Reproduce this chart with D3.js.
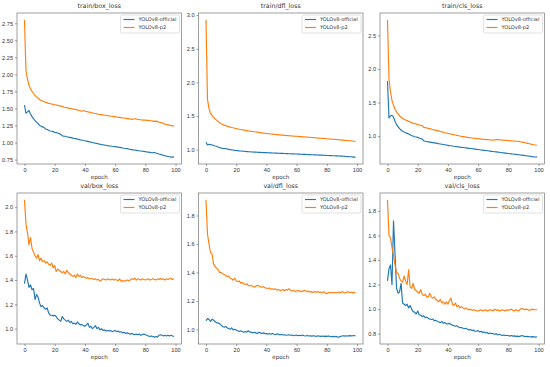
<!DOCTYPE html>
<html lang="en">
<head>
<meta charset="UTF-8"/>
<title>YOLOv8 loss curves</title>
<script src="https://d3js.org/d3.v7.min.js"></script>
<style>
    body, html { margin: 0; padding: 0; background: #fff; }
    svg { display: block; font-family: "DejaVu Sans", sans-serif; }
</style>
</head>
<body>
<svg id="chart" width="550" height="367"></svg>
<script>
const seriesNames = ["YOLOv8-official", "YOLOv8-p2"];
const titles = ["train/box_loss", "train/dfl_loss", "train/cls_loss", "val/box_loss", "val/dfl_loss", "val/cls_loss"];
const xTicks = [0, 20, 40, 60, 80, 100];
const yTicksList = [
    [0.75, 1.00, 1.25, 1.50, 1.75, 2.00, 2.25, 2.50, 2.75],
    [1.0, 1.5, 2.0, 2.5, 3.0],
    [1.0, 1.5, 2.0, 2.5],
    [1.0, 1.2, 1.4, 1.6, 1.8, 2.0],
    [1.0, 1.2, 1.4, 1.6, 1.8],
    [0.8, 1.0, 1.2, 1.4, 1.6, 1.8]
];
const yTickDigits = [2, 1, 1, 1, 1, 1];

const trainBoxOfficial = [
    1.55, 1.43, 1.45, 1.47, 1.42, 1.38, 1.35, 1.32, 1.30, 1.28,
    1.25, 1.24, 1.23, 1.22, 1.20, 1.19, 1.18, 1.17, 1.165, 1.16,
    1.15, 1.145, 1.14, 1.13, 1.12, 1.10, 1.095, 1.092, 1.085, 1.08,
    1.075, 1.072, 1.065, 1.06, 1.057, 1.05, 1.046, 1.04, 1.037, 1.03,
    1.026, 1.02, 1.017, 1.01, 1.006, 1.00, 0.996, 0.99, 0.987, 0.98,
    0.976, 0.97, 0.967, 0.962, 0.96, 0.955, 0.952, 0.95, 0.945, 0.942,
    0.94, 0.936, 0.932, 0.93, 0.926, 0.92, 0.917, 0.912, 0.91, 0.906,
    0.90, 0.897, 0.892, 0.89, 0.886, 0.882, 0.88, 0.876, 0.872, 0.87,
    0.866, 0.862, 0.86, 0.856, 0.852, 0.85, 0.855, 0.846, 0.84, 0.832,
    0.826, 0.82, 0.812, 0.806, 0.80, 0.796, 0.792, 0.787, 0.786, 0.79
];
const trainBoxP2 = [
    2.80, 2.05, 1.93, 1.84, 1.79, 1.75, 1.72, 1.69, 1.67, 1.65,
    1.63, 1.62, 1.61, 1.60, 1.59, 1.585, 1.575, 1.57, 1.565, 1.56,
    1.555, 1.55, 1.545, 1.54, 1.535, 1.53, 1.52, 1.515, 1.512, 1.505,
    1.50, 1.497, 1.49, 1.49, 1.485, 1.48, 1.47, 1.466, 1.46, 1.47,
    1.46, 1.455, 1.45, 1.446, 1.44, 1.436, 1.43, 1.426, 1.42, 1.415,
    1.41, 1.41, 1.405, 1.40, 1.40, 1.395, 1.39, 1.39, 1.385, 1.38,
    1.38, 1.375, 1.37, 1.37, 1.365, 1.36, 1.36, 1.355, 1.35, 1.35,
    1.345, 1.34, 1.345, 1.35, 1.345, 1.34, 1.336, 1.335, 1.33, 1.33,
    1.33, 1.325, 1.325, 1.32, 1.32, 1.315, 1.31, 1.315, 1.31, 1.30,
    1.295, 1.29, 1.28, 1.27, 1.265, 1.26, 1.255, 1.25, 1.245, 1.245
];
const trainDflOfficial = [
    1.11, 1.07, 1.08, 1.075, 1.07, 1.065, 1.055, 1.05, 1.04, 1.03,
    1.025, 1.02, 1.018, 1.015, 1.01, 1.005, 1.0, 0.998, 0.995, 0.99,
    0.988, 0.986, 0.983, 0.981, 0.978, 0.976, 0.975, 0.972, 0.97, 0.969,
    0.967, 0.966, 0.964, 0.963, 0.962, 0.96, 0.959, 0.958, 0.957, 0.956,
    0.955, 0.954, 0.953, 0.952, 0.951, 0.95, 0.949, 0.948, 0.947, 0.946,
    0.945, 0.944, 0.943, 0.942, 0.941, 0.94, 0.939, 0.938, 0.937, 0.936,
    0.935, 0.934, 0.933, 0.932, 0.931, 0.93, 0.929, 0.928, 0.927, 0.926,
    0.925, 0.924, 0.923, 0.922, 0.921, 0.92, 0.919, 0.918, 0.917, 0.916,
    0.914, 0.913, 0.912, 0.911, 0.91, 0.909, 0.908, 0.907, 0.906, 0.905,
    0.904, 0.902, 0.901, 0.899, 0.897, 0.895, 0.894, 0.892, 0.89, 0.889
];
const trainDflP2 = [
    2.93, 1.75, 1.61, 1.54, 1.51, 1.48, 1.46, 1.44, 1.42, 1.40,
    1.385, 1.375, 1.365, 1.357, 1.35, 1.343, 1.336, 1.33, 1.325, 1.318,
    1.312, 1.308, 1.303, 1.30, 1.296, 1.29, 1.287, 1.284, 1.28, 1.277,
    1.273, 1.27, 1.266, 1.262, 1.26, 1.257, 1.253, 1.25, 1.247, 1.244,
    1.241, 1.238, 1.236, 1.233, 1.231, 1.228, 1.226, 1.224, 1.221, 1.219,
    1.217, 1.216, 1.213, 1.211, 1.209, 1.207, 1.206, 1.204, 1.202, 1.20,
    1.199, 1.197, 1.195, 1.193, 1.191, 1.19, 1.188, 1.186, 1.184, 1.182,
    1.181, 1.179, 1.177, 1.176, 1.174, 1.172, 1.17, 1.168, 1.167, 1.165,
    1.163, 1.161, 1.159, 1.157, 1.155, 1.153, 1.151, 1.149, 1.147, 1.145,
    1.143, 1.141, 1.139, 1.137, 1.135, 1.133, 1.131, 1.129, 1.126, 1.123
];
const trainClsOfficial = [
    1.82, 1.27, 1.30, 1.31, 1.28, 1.22, 1.17, 1.14, 1.11, 1.09,
    1.07, 1.06, 1.05, 1.04, 1.03, 1.02, 1.005, 1.0, 0.99, 0.985,
    0.98, 0.97, 0.962, 0.955, 0.928, 0.922, 0.918, 0.914, 0.91, 0.906,
    0.902, 0.898, 0.894, 0.89, 0.886, 0.882, 0.878, 0.874, 0.87, 0.866,
    0.862, 0.858, 0.855, 0.852, 0.848, 0.845, 0.842, 0.838, 0.835, 0.832,
    0.829, 0.826, 0.823, 0.82, 0.817, 0.814, 0.811, 0.808, 0.805, 0.802,
    0.799, 0.796, 0.793, 0.79, 0.787, 0.784, 0.781, 0.778, 0.775, 0.772,
    0.77, 0.767, 0.764, 0.761, 0.758, 0.755, 0.752, 0.749, 0.746, 0.743,
    0.74, 0.737, 0.735, 0.732, 0.729, 0.727, 0.724, 0.721, 0.718, 0.715,
    0.712, 0.709, 0.706, 0.703, 0.70, 0.697, 0.693, 0.69, 0.688, 0.686
];
const trainClsP2 = [
    2.73, 1.85, 1.66, 1.53, 1.46, 1.40, 1.36, 1.33, 1.30, 1.28,
    1.26, 1.25, 1.24, 1.23, 1.22, 1.21, 1.20, 1.19, 1.185, 1.18,
    1.17, 1.165, 1.16, 1.155, 1.13, 1.125, 1.12, 1.115, 1.11, 1.105,
    1.095, 1.09, 1.085, 1.08, 1.074, 1.068, 1.062, 1.056, 1.05, 1.045,
    1.04, 1.035, 1.03, 1.025, 1.02, 1.015, 1.01, 1.005, 1.0, 0.996,
    0.992, 0.988, 0.984, 0.98, 0.977, 0.974, 0.971, 0.968, 0.965, 0.962,
    0.959, 0.957, 0.955, 0.953, 0.951, 0.949, 0.947, 0.945, 0.943, 0.941,
    0.94, 0.942, 0.946, 0.948, 0.945, 0.942, 0.94, 0.938, 0.936, 0.934,
    0.932, 0.93, 0.928, 0.926, 0.925, 0.923, 0.922, 0.92, 0.915, 0.91,
    0.905, 0.9, 0.895, 0.89, 0.885, 0.88, 0.875, 0.87, 0.866, 0.863
];
const valBoxOfficial = [
    1.37, 1.45, 1.40, 1.34, 1.36, 1.32, 1.33, 1.24, 1.28, 1.26,
    1.21, 1.18, 1.19, 1.17, 1.16, 1.17, 1.13, 1.11, 1.11, 1.105,
    1.11, 1.10, 1.08, 1.07, 1.06, 1.10, 1.08, 1.07, 1.06, 1.07,
    1.05, 1.06, 1.04, 1.045, 1.035, 1.055, 1.04, 1.03, 1.035, 1.025,
    1.02, 1.03, 1.045, 1.01, 1.02, 1.00, 1.01, 1.025, 1.00, 1.01,
    0.99, 1.00, 0.985, 0.99, 0.98, 0.985, 0.98, 0.985, 0.975, 0.98,
    0.985, 0.975, 0.98, 0.97, 0.975, 0.965, 0.97, 0.96, 0.965, 0.96,
    0.955, 0.96, 0.955, 0.95, 0.955, 0.95, 0.955, 0.945, 0.95, 0.955,
    0.95, 0.945, 0.94, 0.935, 0.94, 0.935, 0.93, 0.935, 0.93, 0.945,
    0.95, 0.945, 0.94, 0.945, 0.94, 0.945, 0.94, 0.945, 0.94, 0.935
];
const valBoxP2 = [
    2.06, 1.86, 1.79, 1.69, 1.75, 1.66, 1.63, 1.60, 1.58, 1.61,
    1.56, 1.58, 1.55, 1.56, 1.54, 1.55, 1.53, 1.52, 1.54, 1.50,
    1.52, 1.47, 1.49, 1.48, 1.47, 1.46, 1.47, 1.45, 1.48, 1.46,
    1.45, 1.44, 1.43, 1.44, 1.42, 1.45, 1.43, 1.44, 1.42, 1.43,
    1.42, 1.415, 1.42, 1.41, 1.415, 1.41, 1.405, 1.41, 1.40, 1.405,
    1.39, 1.40, 1.41, 1.405, 1.40, 1.41, 1.405, 1.40, 1.41, 1.40,
    1.405, 1.40, 1.395, 1.41, 1.39, 1.395, 1.39, 1.395, 1.40, 1.395,
    1.40, 1.41, 1.405, 1.415, 1.40, 1.41, 1.405, 1.40, 1.41, 1.405,
    1.40, 1.405, 1.41, 1.40, 1.405, 1.41, 1.405, 1.40, 1.41, 1.405,
    1.415, 1.405, 1.41, 1.40, 1.41, 1.405, 1.41, 1.415, 1.405, 1.41
];
const valDflOfficial = [
    1.06, 1.075, 1.07, 1.055, 1.07, 1.065, 1.055, 1.045, 1.045, 1.04,
    1.03, 1.02, 1.015, 1.02, 1.01, 1.005, 1.0, 1.01, 0.995, 1.0,
    0.995, 0.99, 0.985, 0.99, 0.985, 0.98, 0.985, 0.98, 0.99, 0.98,
    0.98, 0.975, 0.98, 0.975, 0.97, 0.98, 0.975, 0.97, 0.975, 0.97,
    0.97, 0.965, 0.97, 0.965, 0.97, 0.965, 0.962, 0.968, 0.965, 0.96,
    0.965, 0.96, 0.962, 0.958, 0.96, 0.962, 0.958, 0.96, 0.955, 0.958,
    0.96, 0.955, 0.958, 0.955, 0.96, 0.955, 0.953, 0.957, 0.953, 0.955,
    0.952, 0.955, 0.953, 0.95, 0.955, 0.952, 0.95, 0.953, 0.95, 0.952,
    0.95, 0.953, 0.95, 0.948, 0.95, 0.948, 0.95, 0.947, 0.945, 0.95,
    0.953, 0.955, 0.952, 0.955, 0.953, 0.956, 0.954, 0.955, 0.956, 0.955
];
const valDflP2 = [
    1.91, 1.67, 1.60, 1.54, 1.53, 1.46, 1.44, 1.43, 1.42, 1.40,
    1.40, 1.39, 1.385, 1.38, 1.37, 1.375, 1.36, 1.355, 1.345, 1.36,
    1.34, 1.335, 1.34, 1.325, 1.33, 1.32, 1.315, 1.32, 1.31, 1.305,
    1.31, 1.30, 1.298, 1.302, 1.31, 1.305, 1.30, 1.296, 1.30, 1.292,
    1.29, 1.287, 1.29, 1.282, 1.285, 1.28, 1.285, 1.275, 1.28, 1.272,
    1.275, 1.28, 1.27, 1.28, 1.275, 1.285, 1.275, 1.27, 1.275, 1.265,
    1.27, 1.275, 1.265, 1.27, 1.265, 1.275, 1.27, 1.265, 1.27, 1.26,
    1.265, 1.26, 1.265, 1.26, 1.265, 1.26, 1.262, 1.258, 1.265, 1.255,
    1.25, 1.26, 1.255, 1.26, 1.255, 1.26, 1.255, 1.258, 1.262, 1.255,
    1.265, 1.26, 1.255, 1.26, 1.265, 1.258, 1.262, 1.255, 1.26, 1.258
];
const valClsOfficial = [
    1.23, 1.33, 1.36, 1.20, 1.72, 1.45, 1.17, 1.13, 1.14, 1.21,
    1.05, 1.04, 1.03, 1.04, 1.01, 1.03, 1.00, 0.98, 0.975, 0.96,
    0.985, 0.955, 0.95, 0.94, 0.945, 0.93, 0.935, 0.925, 0.92, 0.915,
    0.92, 0.905, 0.91, 0.90, 0.895, 0.89, 0.90, 0.885, 0.89, 0.88,
    0.88, 0.885, 0.875, 0.87, 0.865, 0.86, 0.865, 0.855, 0.85, 0.85,
    0.845, 0.84, 0.845, 0.835, 0.83, 0.835, 0.825, 0.83, 0.82, 0.82,
    0.825, 0.815, 0.82, 0.81, 0.815, 0.805, 0.81, 0.80, 0.805, 0.80,
    0.80, 0.795, 0.80, 0.79, 0.795, 0.79, 0.785, 0.79, 0.785, 0.785,
    0.785, 0.78, 0.785, 0.78, 0.782, 0.778, 0.78, 0.776, 0.78, 0.785,
    0.78, 0.778, 0.776, 0.778, 0.775, 0.774, 0.776, 0.774, 0.772, 0.775
];
const valClsP2 = [
    1.89, 1.60, 1.58, 1.50, 1.44, 1.36, 1.30, 1.29, 1.25, 1.23,
    1.22, 1.27, 1.23, 1.20, 1.32, 1.18, 1.17, 1.21, 1.16, 1.15,
    1.14, 1.13, 1.16, 1.12, 1.11, 1.12, 1.10, 1.10, 1.13, 1.10,
    1.09, 1.10, 1.08, 1.07, 1.06, 1.08, 1.05, 1.06, 1.04, 1.06,
    1.04, 1.07, 1.09, 1.04, 1.03, 1.05, 1.02, 1.03, 1.01, 1.02,
    1.01, 1.00, 1.01, 1.00, 0.995, 1.00, 0.99, 0.995, 0.99, 0.985,
    0.985, 0.99, 0.995, 0.985, 0.99, 0.995, 0.985, 0.99, 0.995, 0.99,
    0.985, 1.00, 0.99, 0.995, 0.985, 0.99, 0.995, 0.99, 0.985, 0.995,
    0.99, 0.995, 1.00, 0.99, 0.985, 0.995, 0.99, 0.985, 1.00, 1.005,
    1.00, 0.995, 1.00, 0.995, 0.99, 0.995, 1.00, 0.995, 0.995, 0.995
];

const panelSeries = [
    [trainBoxOfficial, trainBoxP2],
    [trainDflOfficial, trainDflP2],
    [trainClsOfficial, trainClsP2],
    [valBoxOfficial, valBoxP2],
    [valDflOfficial, valDflP2],
    [valClsOfficial, valClsP2]
];

const colors = ["#1f77b4", "#ff7f0e"];
const lefts = [17, 198.5, 380];
const tops = [13, 193];
const pw = 164.5, ph = 151;

const svg = d3.select("#chart");

panelSeries.forEach((series, i) => {
    const col = i % 3, row = Math.floor(i / 3);
    const g = svg.append("g").attr("transform", `translate(${lefts[col]},${tops[row]})`);

    const n = series[0].length;
    const xPad = (n - 1) * 0.05;
    const x = d3.scaleLinear().domain([-xPad, n - 1 + xPad]).range([0, pw]);
    const [lo, hi] = d3.extent(series.flat());
    const yPad = (hi - lo) * 0.05;
    const y = d3.scaleLinear().domain([lo - yPad, hi + yPad]).range([ph, 0]);

    const line = d3.line().x((d, k) => x(k)).y(d => y(d));
    series.forEach((vals, s) => {
        g.append("path")
            .datum(vals)
            .attr("fill", "none")
            .attr("stroke", colors[s])
            .attr("stroke-width", 1.15)
            .attr("stroke-linejoin", "round")
            .attr("d", line);
    });

    // axes
    const xAxis = g.append("g").attr("transform", `translate(0,${ph})`)
        .call(d3.axisBottom(x).tickValues(xTicks).tickSize(2).tickPadding(2).tickFormat(d3.format("d")));
    const yAxis = g.append("g")
        .call(d3.axisLeft(y).tickValues(yTicksList[i]).tickSize(2).tickPadding(2)
            .tickFormat(d3.format(`.${yTickDigits[i]}f`)));
    [xAxis, yAxis].forEach(a => {
        a.select(".domain").remove();
        a.selectAll("line").attr("stroke", "#555").attr("stroke-width", 0.6);
        a.selectAll("text").attr("fill", "#333").style("font-size", "5.6px");
    });

    g.append("rect")
        .attr("width", pw).attr("height", ph)
        .attr("fill", "none").attr("stroke", "#777").attr("stroke-width", 0.7);

    g.append("text")
        .attr("x", pw / 2).attr("y", -5)
        .attr("text-anchor", "middle")
        .attr("fill", "#333")
        .style("font-size", "6.3px")
        .text(titles[i]);

    g.append("text")
        .attr("x", pw / 2).attr("y", ph + 14.5)
        .attr("text-anchor", "middle")
        .attr("fill", "#333")
        .style("font-size", "5.6px")
        .text("epoch");

    // legend
    const lw = 59, lh = 18;
    const lg = g.append("g").attr("transform", `translate(${pw - lw - 2},2)`);
    lg.append("rect")
        .attr("width", lw).attr("height", lh).attr("rx", 1.5)
        .attr("fill", "#fff").attr("fill-opacity", 0.8)
        .attr("stroke", "#ccc").attr("stroke-width", 0.6);
    seriesNames.forEach((name, s) => {
        const ly = 4.5 + s * 8;
        lg.append("line")
            .attr("x1", 3).attr("x2", 14).attr("y1", ly).attr("y2", ly)
            .attr("stroke", colors[s]).attr("stroke-width", 1.15);
        lg.append("text")
            .attr("x", 18).attr("y", ly).attr("dy", "0.35em")
            .attr("fill", "#333")
            .style("font-size", "5px")
            .text(name);
    });
});
</script>
</body>
</html>
